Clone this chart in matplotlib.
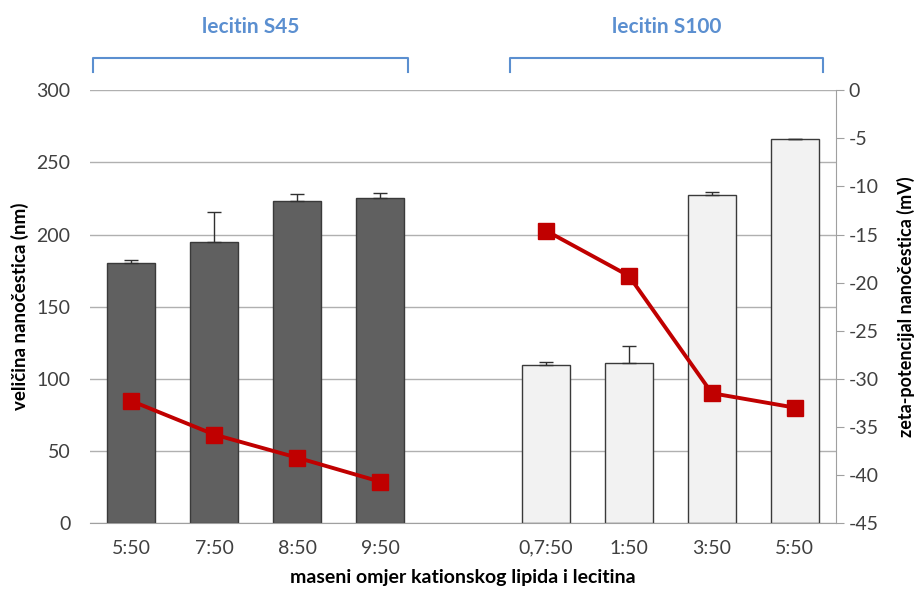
import numpy as np
import matplotlib.pyplot as plt
from matplotlib.lines import Line2D

plt.rcParams['font.family'] = ['Lato', 'DejaVu Sans']
plt.rcParams['axes.unicode_minus'] = False

# podaci
labels_s45 = ['5:50', '7:50', '8:50', '9:50']
labels_s100 = ['0,7:50', '1:50', '3:50', '5:50']
size_s45 = [180.5, 194.5, 223, 225]
size_s45_err = [1.5, 21, 5, 3.5]
size_s100 = [109.5, 111, 227.5, 266]
size_s100_err = [2.3, 12, 2.3, 0]
zeta_s45 = [-32.3, -35.8, -38.2, -40.7]
zeta_s100 = [-14.6, -19.3, -31.5, -33.0]

pos_s45 = np.arange(4)
pos_s100 = np.arange(5, 9)

fig = plt.figure(figsize=(9.16, 5.94), dpi=100)
ax = fig.add_axes([0.098, 0.1195, 0.815, 0.7285])
ax2 = ax.twinx()

ax.set_axisbelow(True)
ax.yaxis.grid(True, color='#b0b0b0', lw=1)
ax.bar(pos_s45, size_s45, width=0.58, color='#606060', edgecolor='#3a3a3a', lw=1,
       yerr=[np.zeros(4), size_s45_err], error_kw=dict(ecolor='#303030', elinewidth=1, capsize=5, capthick=1))
ax.bar(pos_s100, size_s100, width=0.58, color='#f2f2f2', edgecolor='#3a3a3a', lw=1,
       yerr=[np.zeros(4), size_s100_err], error_kw=dict(ecolor='#303030', elinewidth=1, capsize=5, capthick=1))

ax2.plot(pos_s45, zeta_s45, color='#c00000', lw=2.8, marker='s', ms=12)
ax2.plot(pos_s100, zeta_s100, color='#c00000', lw=2.8, marker='s', ms=12)

ax.set_xlim(-0.5, 8.5)
ax.set_ylim(0, 300)
ax.set_yticks(range(0, 301, 50))
ax2.set_ylim(-45, 0)
ax2.set_yticks(range(-45, 1, 5))

ax.set_xticks(list(pos_s45) + list(pos_s100))
ax.set_xticklabels(labels_s45 + labels_s100)

for a in (ax, ax2):
    for s in ('top', 'left'):
        a.spines[s].set_visible(False)
ax.spines['right'].set_visible(False)
ax2.spines['bottom'].set_visible(False)
ax.spines['bottom'].set_color('#a0a0a0')
ax2.spines['right'].set_color('#a0a0a0')

ax.tick_params(axis='y', length=0, pad=14, labelsize=14, colors='#404040')
ax.tick_params(axis='x', length=0, pad=12, labelsize=14, colors='#404040')
ax2.tick_params(axis='y', length=6, color='#a0a0a0', labelsize=14, colors='#404040', pad=3)

ax.set_ylabel('veličina nanočestica (nm)', fontsize=13.5, fontweight='bold')
ax2.set_ylabel('zeta-potencijal nanočestica (mV)', fontsize=13, fontweight='bold', rotation=90)
ax.yaxis.set_label_coords(29 / 916, 0.5 * (0.1195 + 0.848), transform=fig.transFigure)
ax2.yaxis.set_label_coords(897 / 916, 0.5 * (0.1195 + 0.848), transform=fig.transFigure)
ax.set_xlabel('maseni omjer kationskog lipida i lecitina', fontsize=14, fontweight='bold', labelpad=9)

# zagrade s oznakama
W, H = 916.0, 594.0
blue = '#5b8fd0'
for x0, x1, txt in [(93, 408, 'lecitin S45'), (510, 823, 'lecitin S100')]:
    xs = np.array([x0, x0, x1, x1]) / W
    ys = 1 - np.array([72, 58, 58, 72]) / H
    fig.add_artist(Line2D(xs, ys, color=blue, lw=1.5, transform=fig.transFigure))
    fig.text((x0 + x1) / 2 / W, 1 - 27 / H, txt, color=blue, fontsize=15,
             fontweight='bold', ha='center', va='center')

fig.savefig('out.png', dpi=100)
